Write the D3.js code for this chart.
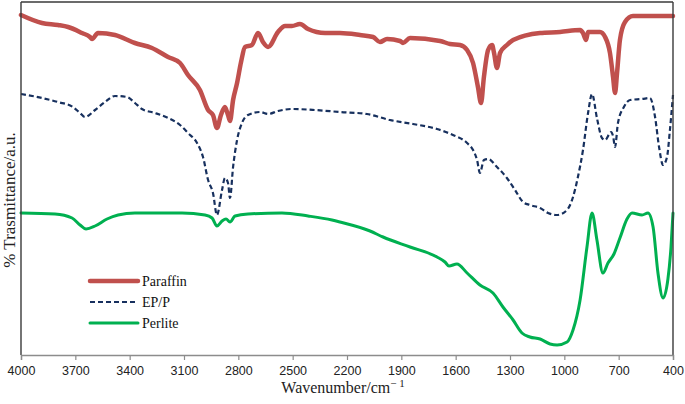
<!DOCTYPE html>
<html>
<head>
<meta charset="utf-8">
<script src="https://cdn.jsdelivr.net/npm/d3@7/dist/d3.min.js"></script>
<style>
  html, body { margin: 0; padding: 0; background: #fff; }
  svg { display: block; }
</style>
</head>
<body>
<script>
// ---- Data (wavenumber cm-1, transmittance a.u.) ----
const seriesNames = ["Paraffin", "EP/P", "Perlite"];
const xTicks = [4000, 3700, 3400, 3100, 2800, 2500, 2200, 1900, 1600, 1300, 1000, 700, 400];

const paraffinWave = [4000,3884,3796,3740,3663,3619,3608,3575,3481,3371,3277,3188,3122,3078,3012,2967,2940,2918,2896,2874,2857,2846,2829,2807,2785,2763,2725,2691,2664,2636,2581,2542,2504,2460,2415,2321,2239,2128,2056,2018,1979,1907,1891,1852,1686,1631,1576,1537,1504,1477,1460,1444,1421,1399,1388,1372,1355,1317,1283,1134,1024,913,897,880,869,803,775,748,731,720,709,693,665,621,510,400];
const paraffinT    = [340,332,330,328,322,318,316,322,320,312,307,298,292,280,265,245,240,227,240,248,240,234,255,272,293,308,310,322,313,308,323,329,329,331,326,322,322,320,318,313,316,314,312,317,314,311,310,305,292,268,252,278,305,310,302,287,302,310,315,322,323,325,322,315,323,323,318,302,278,262,282,315,333,339,339,339];

const eppWave = [4000,3884,3796,3713,3674,3647,3591,3536,3481,3415,3371,3332,3260,3188,3122,3078,3028,2995,2967,2940,2918,2890,2874,2857,2846,2829,2807,2780,2747,2680,2636,2581,2504,2377,2239,2090,1963,1836,1703,1615,1537,1504,1482,1466,1444,1421,1372,1317,1272,1228,1190,1134,1090,1040,985,952,925,897,869,847,820,792,775,742,731,720,704,671,637,571,527,499,477,455,433,417,400];
const eppT    = [261,257,253,248,242,238,245,253,259,258,252,246,242,237,230,222,212,198,175,162,140,165,177,172,157,188,215,232,240,243,241,244,246,245,243,241,235,231,226,220,212,205,195,182,195,196,188,177,165,153,150,147,142,140,145,158,178,205,242,261,237,217,215,223,219,208,232,248,255,256,257,238,208,190,198,225,260];

const perliteWave = [4000,3812,3718,3674,3641,3591,3525,3464,3371,3111,2984,2945,2918,2890,2868,2846,2818,2747,2559,2415,2283,2239,2073,2001,1852,1703,1659,1637,1593,1537,1466,1394,1339,1283,1234,1190,1134,1079,1040,985,952,913,875,847,820,787,759,726,693,654,626,571,538,510,483,455,428,411,400];
const perliteT    = [142,141,137,130,126,129,136,140,142,142,140,137,129,134,136,133,139,141,142,139,135,133,124,118,108,98,93,89,91,82,70,62,48,35,22,18,16,11,10,13,25,55,108,142,115,82,92,101,117,136,142,140,142,128,82,57,76,108,142];

// ---- Layout ----
const W = 685, H = 404;
const mL = 21, mR = 673, mT = 2, mB = 355;

const svg = d3.select("body").append("svg").attr("width", W).attr("height", H);

const x = d3.scaleLinear().domain([4000, 400]).range([mL, mR]);
const y = d3.scaleLinear().domain([0, 353]).range([mB, mT]);

const mk = (w, t) => w.map((v, i) => ({w: v, t: t[i]}));
const series = [
  {name: seriesNames[0], data: mk(paraffinWave, paraffinT), color: "#C0504D", width: 4.5, dash: null},
  {name: seriesNames[1], data: mk(eppWave, eppT), color: "#17305E", width: 2.2, dash: "5,3"},
  {name: seriesNames[2], data: mk(perliteWave, perliteT), color: "#00B050", width: 3, dash: null}
];

const line = d3.line().x(d => x(d.w)).y(d => y(d.t)).curve(d3.curveMonotoneX);

[series[2], series[1], series[0]].forEach(s => {
  svg.append("path")
    .datum(s.data)
    .attr("d", line)
    .attr("fill", "none")
    .attr("stroke", s.color)
    .attr("stroke-width", s.width)
    .attr("stroke-linejoin", "round")
    .attr("stroke-linecap", s.dash ? "butt" : "round")
    .attr("stroke-dasharray", s.dash);
});

// Frame: left, top, right
const frame = svg.append("g").attr("stroke", "#3a3a3a").attr("stroke-width", 1.4);
frame.append("line").attr("x1", mL).attr("x2", mL).attr("y1", mT).attr("y2", mB);
frame.append("line").attr("x1", mL).attr("x2", mR).attr("y1", mT).attr("y2", mT);
frame.append("line").attr("x1", mR).attr("x2", mR).attr("y1", mT).attr("y2", mB);

// Bottom axis
const xAxis = d3.axisBottom(x).tickValues(xTicks).tickSize(5).tickPadding(6).tickFormat(d3.format("d"));
const gx = svg.append("g").attr("transform", `translate(0,${mB})`).call(xAxis);
gx.select(".domain").attr("stroke", "#8c8c8c").attr("stroke-width", 1.4);
gx.selectAll(".tick line").attr("stroke", "#8c8c8c").attr("stroke-width", 1.2);
gx.selectAll(".tick text")
  .attr("font-family", "Liberation Sans, Arial, sans-serif")
  .attr("font-size", 12.5)
  .attr("fill", "#222");

// X label
const xl = svg.append("text")
  .attr("x", 343).attr("y", 393)
  .attr("text-anchor", "middle")
  .attr("font-family", "Liberation Serif, Times New Roman, serif")
  .attr("font-size", 16)
  .attr("fill", "#222");
xl.append("tspan").text("Wavenumber/cm");
xl.append("tspan").attr("dy", -6).attr("font-size", 11).text("− 1");

// Y label
svg.append("text")
  .attr("transform", "translate(15,200) rotate(-90)")
  .attr("text-anchor", "middle")
  .attr("font-family", "Liberation Serif, Times New Roman, serif")
  .attr("font-size", 17)
  .attr("fill", "#222")
  .text("% Trasmittance/a.u.");

// Legend
const legY = [281, 302, 323];
series.forEach((s, i) => {
  const g = svg.append("g");
  g.append("line")
    .attr("x1", 90).attr("x2", 138)
    .attr("y1", legY[i]).attr("y2", legY[i])
    .attr("stroke", s.color)
    .attr("stroke-width", s.width)
    .attr("stroke-linecap", s.dash ? "butt" : "round")
    .attr("stroke-dasharray", s.dash);
  g.append("text")
    .attr("x", 142).attr("y", legY[i] + 5)
    .attr("font-family", "Liberation Serif, Times New Roman, serif")
    .attr("font-size", 14)
    .attr("fill", "#111")
    .text(s.name);
});
</script>
</body>
</html>
